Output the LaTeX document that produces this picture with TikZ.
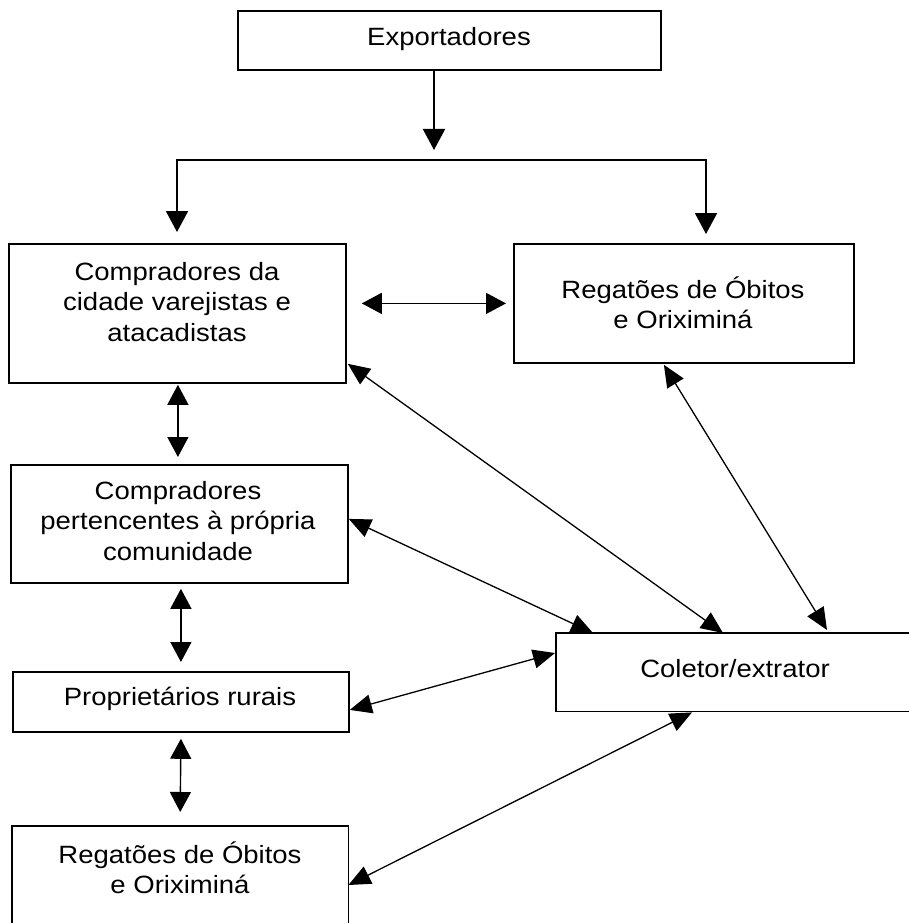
\documentclass[tikz,border=0pt]{standalone}
\usepackage{fontspec}
\setmainfont{Liberation Sans}[FakeStretch=1.1]
\usetikzlibrary{arrows.meta,calc}
\begin{document}
\begin{tikzpicture}[x=1pt,y=-1pt,
  box/.style={draw, line width=1.8pt, rectangle, inner sep=0pt, anchor=north west},
  openbox/.style={rectangle, inner sep=0pt, anchor=north west},
  lbl/.style={align=center, font=\fontsize{25}{30.5}\selectfont, inner sep=0pt},
  bigtip/.style={-{Triangle[length=21pt,width=22pt]}},
  arr/.style={line width=2pt, line join=miter, {Triangle[length=21pt,width=22pt]}-{Triangle[length=21pt,width=22pt]}},
  darr/.style={line width=1.4pt, {Triangle[length=20pt,width=21pt]}-{Triangle[length=20pt,width=21pt]}},
  diag/.style={line width=1.3pt, {Triangle[length=22pt,width=19pt]}-{Triangle[length=22pt,width=19pt]}}]
\path[use as bounding box, fill=white] (0,0) rectangle (909,923);

% boxes
\node[box, minimum width=423pt, minimum height=59pt] (exp) at (237,10) {};
\node[box, minimum width=337pt, minimum height=139pt] (c1) at (8,243) {};
\node[box, minimum width=340pt, minimum height=119pt] (rb) at (513,243) {};
\node[box, minimum width=337pt, minimum height=118pt] (c2) at (10,464) {};
\node[box, minimum width=336pt, minimum height=60pt] (c3) at (12,671) {};
\node[openbox, minimum width=336pt, minimum height=100pt] (c4) at (12,826) {};
\draw[line width=1.8pt] (c4.south west) -- (c4.north west) -- (c4.north east) -- (c4.south east);
\node[openbox, minimum width=360pt, minimum height=78pt] (col) at (556,633) {};
\draw[line width=1.8pt] (col.north east) -- (col.north west) -- (col.south west) -- (col.south east);

% texts
\node[lbl] (texp) at (449,39) {Exportadores};
\node[lbl] (tc1) at (177,302) {Compradores da\\cidade varejistas e\\atacadistas};
\node[lbl] (trb) at (683,303) {Regatões de Óbitos\\e Oriximiná};
\node[lbl] (tc2) at (178,521) {Compradores\\pertencentes à própria\\comunidade};
\node[lbl] (tc3) at (180,699) {Proprietários rurais};
\node[lbl] (tc4) at (180,868) {Regatões de Óbitos\\e Oriximiná};
\node[lbl] (tcol) at (735,669) {Coletor/extrator};

% top connectors
\coordinate (j) at (434,160);
\coordinate (jl) at (177,160);
\coordinate (jr) at (706,160);
\draw[line width=2pt, bigtip] (exp.south -| j) -- ($(j)+(0,-10)$);
\draw[arr] ($(c1.north -| jl)+(0,-11)$) -- (jl) -- (jr) -- ($(rb.north -| jr)+(0,-9)$);

% double arrows
\draw[darr] ($(c1.east |- rb.west)+(15,0)$) -- ($(rb.west)+(-7,0)$);
\draw[darr] ($(c1.south)+(0.5,1)$) -- ($(c1.south |- c2.north)+(0.5,-7)$);
\draw[darr] ($(c3.north |- c2.south)+(0,5)$) -- ($(c3.north)+(0,-9)$);
\draw[darr] ($(c3.south)+(0,6)$) -- ($(c4.north)+(0,-14)$);

% diagonals to collector
\draw[diag] ($(c1.south east)+(1,-20)$) -- ($(col.north west)+(167,0)$);
\draw[diag] ($(rb.south)+(-20,1)$) -- ($(col.north west)+(271,-3)$);
\draw[diag] ($(c2.east)+(0,-5)$) -- ($(col.north west)+(37,0)$);
\draw[diag] ($(c3.east)+(0,8)$) -- ($(col.north west)+(-1,20)$);
\draw[diag] ($(c4.north east)+(0,59)$) -- ($(col.south west)+(136,1)$);
\end{tikzpicture}
\end{document}
